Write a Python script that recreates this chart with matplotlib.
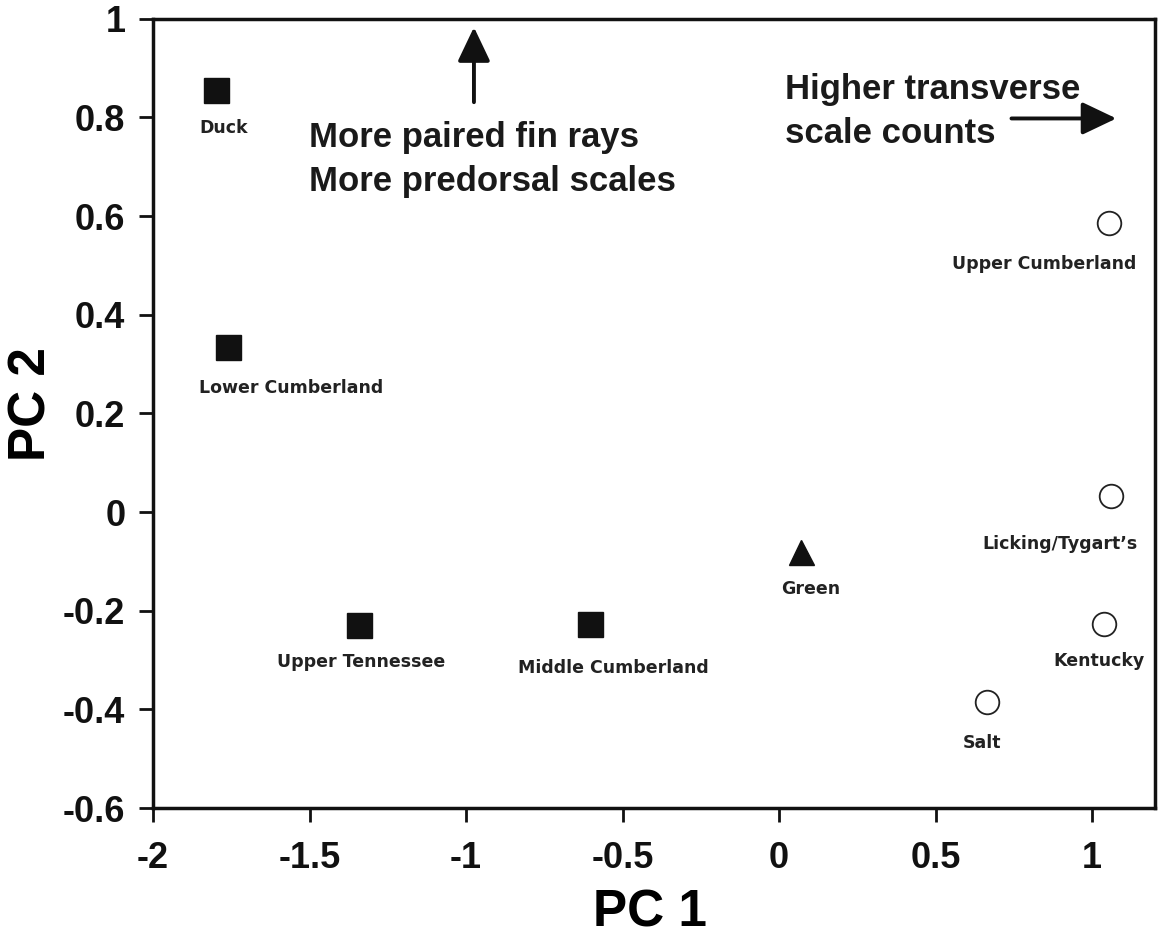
import matplotlib
matplotlib.use('Agg')
import matplotlib.pyplot as plt

plt.rcParams['font.family'] = ['Liberation Sans', 'DejaVu Sans']

# PC scores
sq_names = ['Duck', 'Lower Cumberland', 'Upper Tennessee', 'Middle Cumberland']
sq_pc1 = [-1.80, -1.76, -1.343, -0.605]
sq_pc2 = [0.855, 0.334, -0.228, -0.226]

tri_names = ['Green']
tri_pc1 = [0.07]
tri_pc2 = [-0.08]

circ_names = ['Upper Cumberland', "Licking/Tygart\u2019s", 'Kentucky', 'Salt']
circ_pc1 = [1.055, 1.061, 1.039, 0.665]
circ_pc2 = [0.587, 0.033, -0.226, -0.386]

x_ticks = [-2, -1.5, -1, -0.5, 0, 0.5, 1]
y_ticks = [-0.6, -0.4, -0.2, 0, 0.2, 0.4, 0.6, 0.8, 1]

fig = plt.figure(figsize=(11.63, 9.41), dpi=100)
ax = fig.add_axes([0.1316, 0.1413, 0.8614, 0.8387])

ax.plot(sq_pc1, sq_pc2, 's', color='#111111', markersize=18, linestyle='none')
ax.plot(tri_pc1, tri_pc2, '^', color='#111111', markersize=18, linestyle='none')
ax.plot(circ_pc1, circ_pc2, 'o', markerfacecolor='white', markeredgecolor='#222222',
        markeredgewidth=1.3, markersize=17, linestyle='none')

# label offsets (points) below each marker
sq_off = [(6, -27), (45, -29), (2, -27), (17, -32)]
tri_off = [(7, -27)]
circ_off = [(-47, -30), (-37, -35), (-4, -27), (-4, -29)]

def label(names, xs, ys, offs):
    for n, x, y, o in zip(names, xs, ys, offs):
        ax.annotate(n, (x, y), xytext=o, textcoords='offset points',
                    ha='center', va='center', fontsize=12.5, fontweight='bold',
                    family='DejaVu Sans', color='#222222')

label(sq_names, sq_pc1, sq_pc2, sq_off)
label(tri_names, tri_pc1, tri_pc2, tri_off)
label(circ_names, circ_pc1, circ_pc2, circ_off)

# direction notes
arrow = dict(arrowstyle='-|>,head_width=1.0,head_length=2.1', color='#111111',
             lw=2.8, shrinkA=0, shrinkB=0)
ax.text(-1.502, 0.715, 'More paired fin rays\nMore predorsal scales', fontsize=25,
        fontweight='bold', color='#1a1a1a', ha='left', va='center', linespacing=1.43)
ax.annotate('', xy=(-0.975, 0.983), xytext=(-0.975, 0.831), arrowprops=arrow)
ax.text(0.017, 0.812, 'Higher transverse\nscale counts', fontsize=25,
        fontweight='bold', color='#1a1a1a', ha='left', va='center', linespacing=1.43)
ax.annotate('', xy=(1.077, 0.798), xytext=(0.742, 0.798), arrowprops=arrow)

ax.set_xlim(-2, 1.2)
ax.set_ylim(-0.6, 1.0)
ax.set_xticks(x_ticks)
ax.set_xticklabels(['-2', '-1.5', '-1', '-0.5', '0', '0.5', '1'])
ax.set_yticks(y_ticks)
ax.set_yticklabels(['-0.6', '-0.4', '-0.2', '0', '0.2', '0.4', '0.6', '0.8', '1'])
ax.tick_params(axis='both', direction='out', length=10, width=2, labelsize=26,
               colors='#111111')
ax.tick_params(axis='x', pad=14)
ax.tick_params(axis='y', pad=10)
for t in ax.get_xticklabels() + ax.get_yticklabels():
    t.set_fontweight('bold')
for s in ax.spines.values():
    s.set_linewidth(2.5)
    s.set_color('#111111')

ax.set_xlabel('PC 1', fontsize=37, fontweight='bold', va='center')
ax.set_ylabel('PC 2', fontsize=37, fontweight='bold', va='center', ha='center')
ax.xaxis.set_label_coords(0.496, -0.133)
ax.yaxis.set_label_coords(-0.121, 0.512)

fig.savefig('out.png', dpi=100, facecolor='white')
